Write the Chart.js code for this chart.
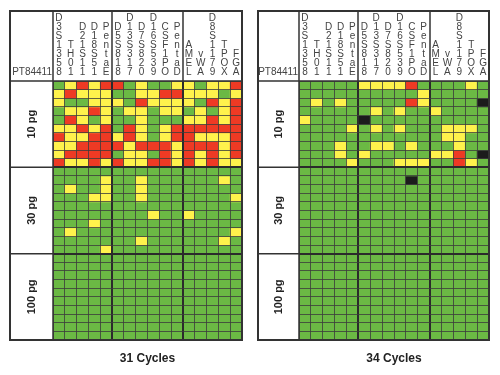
<!DOCTYPE html>
<html>
<head>
<meta charset="utf-8">
<script src="https://cdn.jsdelivr.net/npm/chart.js@4.4.1/dist/chart.umd.min.js"></script>
<style>
  html, body { margin:0; padding:0; background:#fff; }
  #wrap { position:relative; width:500px; height:375px; }
  canvas { position:absolute; top:0; }
  #c31 { left:0; }
  #c34 { left:250px; }
</style>
</head>
<body>
<div id="wrap">
  <canvas id="c31" width="250" height="375"></canvas>
  <canvas id="c34" width="250" height="375"></canvas>
</div>
<script>
// sample + loci (column order as in the picture)
const sampleId = "PT84411";
const markers = ["D3S1358","TH01","D21S11","D18S51","PentaE",
                 "D5S818","D13S317","D7S820","D16S539","CSF1PO","PentaD",
                 "AMEL","vWA","D8S1179","TPOX","FGA"];
const groupBreaks = [5, 11];           // dye panels split after these columns
const amounts = ["10 pg", "30 pg", "100 pg"];
const cycleTitles = ["31 Cycles", "34 Cycles"];

// one string per replicate, one letter per locus
// G = full call, Y = partial, R = dropout, K = no result
const c31_10pg = [
  "GYRYR RGYGGY YGYYR",
  "YRYYY GGYYRR YYYGY",
  "YGGYY YGRYYY YGRYR",
  "GYYRY GYYGYY GYGYR",
  "GRYGY GGYGGG YYRYR",
  "YYRYR GRYGYR RRRRR",
  "RYYRR YRYGYR RYYYR",
  "YYRRR RYRRRY RRRYR",
  "YRRRR GYYGRY RYRYR",
  "RYYRY RYYRRY RYRYY"
];
const c31_30pg = [
  "GGGGG GGGGGG GGGGG",
  "GGGGY GGYGGG GGGYG",
  "GYGGY GGYGGG GGGGG",
  "GGGYY GGYGGG GGGGY",
  "GGGGG GGGGGG GGGGG",
  "GGGGG GGGYGG YGGGG",
  "GGGYG GGGGGG GGGGG",
  "GYGGG GGGGGG GGGGY",
  "GGGGG GGYGGG GGGYG",
  "GGGGY GGGGGG GGGGG"
];
const c31_100pg = [
  "GGGGG GGGGGG GGGGG","GGGGG GGGGGG GGGGG","GGGGG GGGGGG GGGGG","GGGGG GGGGGG GGGGG","GGGGG GGGGGG GGGGG",
  "GGGGG GGGGGG GGGGG","GGGGG GGGGGG GGGGG","GGGGG GGGGGG GGGGG","GGGGG GGGGGG GGGGG","GGGGG GGGGGG GGGGG"
];
const c34_10pg = [
  "GGGGG YYYYRG GGGYG",
  "GGGGG GGGGGY GGGGG",
  "GYGYG GGGGRY GGGGK",
  "GGGGG GYGYGG YGGGG",
  "YGGGG KGGGGG GGGGG",
  "GGGGY GYGYGG GYYYG",
  "GGGGG GGGGGG GYYGG",
  "GGGYG GYYGYG GGYGG",
  "GGGYG YGGGGG YYRGK",
  "GGGGY GGGYYY GGRYG"
];
const c34_30pg = [
  "GGGGG GGGGGG GGGGG",
  "GGGGG GGGGKG GGGGG",
  "GGGGG GGGGGG GGGGG","GGGGG GGGGGG GGGGG","GGGGG GGGGGG GGGGG","GGGGG GGGGGG GGGGG",
  "GGGGG GGGGGG GGGGG","GGGGG GGGGGG GGGGG","GGGGG GGGGGG GGGGG","GGGGG GGGGGG GGGGG"
];
const c34_100pg = [
  "GGGGG GGGGGG GGGGG","GGGGG GGGGGG GGGGG","GGGGG GGGGGG GGGGG","GGGGG GGGGGG GGGGG","GGGGG GGGGGG GGGGG",
  "GGGGG GGGGGG GGGGG","GGGGG GGGGGG GGGGG","GGGGG GGGGGG GGGGG","GGGGG GGGGGG GGGGG","GGGGG GGGGGG GGGGG"
];

const COLORS = { G: "#6bb944", Y: "#fff24c", R: "#ee3a24", K: "#1c1c1c" };
const FONT = "'Liberation Sans', Arial, sans-serif";

// frame, header lines and side labels (positions taken from the scales)
const framePlugin = {
  id: "frame",
  afterDraw(chart) {
    const { ctx, chartArea: a, scales: { x, y } } = chart;
    const left = y.left, top = x.top;
    ctx.save();
    ctx.strokeStyle = "#333";
    ctx.lineWidth = 1.5;
    ctx.beginPath();
    ctx.moveTo(left, a.top); ctx.lineTo(a.right, a.top);
    ctx.moveTo(a.left, top); ctx.lineTo(a.left, a.bottom);
    groupBreaks.forEach(b => {
      const px = Math.round((x.getPixelForValue(b - 1) + x.getPixelForValue(b)) / 2);
      ctx.moveTo(px, top); ctx.lineTo(px, a.top);
    });
    [10, 20].forEach(v => {
      const py = y.getPixelForValue(v);
      ctx.moveTo(left, py); ctx.lineTo(a.left, py);
    });
    ctx.stroke();
    ctx.lineWidth = 2;
    ctx.strokeRect(left, top, a.right - left, a.bottom - top);

    ctx.fillStyle = "#222";
    ctx.font = "bold 11px " + FONT;
    ctx.textAlign = "center";
    ctx.textBaseline = "middle";
    amounts.forEach((t, i) => {
      ctx.save();
      ctx.translate((left + a.left) / 2, y.getPixelForValue(i * 10 + 5));
      ctx.rotate(-Math.PI / 2);
      ctx.fillText(t, 0, 0);
      ctx.restore();
    });

    ctx.font = "10px " + FONT;
    ctx.fillStyle = "#444";
    ctx.textAlign = "right";
    ctx.fillText(sampleId, a.left - 1, a.top - 8.5);
    ctx.restore();
  }
};

function makeChart(id, title, sections, pad, labelW) {
  const rows = sections.flat().map(s => s.replace(/ /g, ""));
  const datasets = rows.map((row, r) => ({
    data: markers.map(() => [r, r + 1]),
    backgroundColor: row.split("").map(c => COLORS[c]),
    borderWidth: 0,
    barPercentage: 1,
    categoryPercentage: 1,
    grouped: false
  }));

  return new Chart(document.getElementById(id), {
    type: "bar",
    data: { labels: markers, datasets },
    options: {
      responsive: false,
      animation: false,
      devicePixelRatio: 1,
      layout: { padding: pad },
      plugins: {
        legend: { display: false },
        tooltip: { enabled: false },
        title: {
          display: true, position: "bottom", fullSize: false, text: title, color: "#222",
          font: { family: FONT, size: 12, weight: "bold" },
          padding: { top: 11, bottom: 9.6 }
        }
      },
      scales: {
        x: {
          type: "category", position: "top",
          afterFit: s => { s.height = 70; },
          border: { display: false },
          grid: {
            z: 1, drawTicks: false, offset: true,
            color: c => groupBreaks.includes(c.index) ? "#2b2b2b" : "rgba(60,60,60,0.8)",
            lineWidth: c => groupBreaks.includes(c.index) ? 2 : 1
          },
          ticks: {
            autoSkip: false, maxRotation: 0, minRotation: 0, padding: 4, color: "#444",
            font: { family: FONT, size: 10, lineHeight: "9px" },
            callback: (v, i) => markers[i].split("")
          }
        },
        y: {
          type: "linear", min: 0, max: 30, reverse: true,
          afterFit: s => { s.width = labelW; },
          border: { display: false },
          grid: {
            z: 1, drawTicks: false,
            color: c => (c.tick && (c.tick.value === 10 || c.tick.value === 20)) ? "#2b2b2b" : "rgba(60,60,60,0.8)",
            lineWidth: c => (c.tick && (c.tick.value === 10 || c.tick.value === 20)) ? 2 : 1
          },
          ticks: { display: false, stepSize: 1 }
        }
      }
    },
    plugins: [framePlugin]
  });
}

makeChart("c31", cycleTitles[0], [c31_10pg, c31_30pg, c31_100pg], { left: 10, top: 11, right: 8, bottom: 0 }, 43);
makeChart("c34", cycleTitles[1], [c34_10pg, c34_30pg, c34_100pg], { left: 8, top: 11, right: 11, bottom: 0 }, 41);
</script>
</body>
</html>
